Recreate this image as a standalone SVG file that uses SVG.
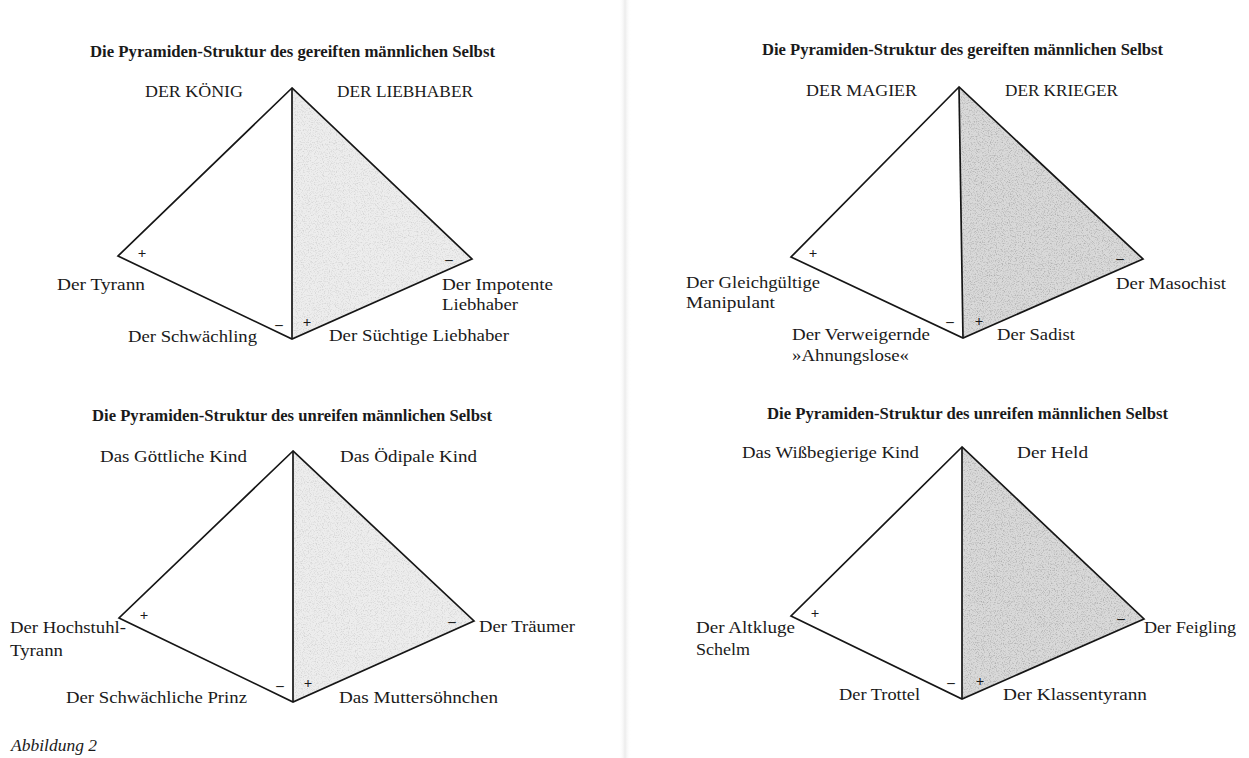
<svg xmlns="http://www.w3.org/2000/svg" width="1249" height="758" viewBox="0 0 1249 758">
<style>
  text { font-family: "Liberation Serif", "Times New Roman", serif; fill: #1a1a1a; }
  .title { font-size: 16px; font-weight: bold; }
  .lbl { font-size: 17px; }
  .sign { font-size: 15px; font-weight: bold; text-anchor: middle; }
  .cap { font-size: 16px; font-style: italic; }
  .edge { fill: none; stroke: #161616; stroke-width: 1.7; stroke-linejoin: miter; }
  .shadeL { fill: #ededed; }
  .shadeR { fill: #d9d9d9; }
  .grain { fill: #000; filter: url(#speck); }
</style>
<defs>
  <filter id="speck" x="0" y="0" width="100%" height="100%" color-interpolation-filters="sRGB">
    <feTurbulence type="fractalNoise" baseFrequency="0.85" numOctaves="2" seed="7" result="n"/>
    <feColorMatrix in="n" type="matrix" values="0 0 0 0 0  0 0 0 0 0  0 0 0 0 0  2.2 0 0 0 -1.05" result="d"/>
    <feComposite in="d" in2="SourceGraphic" operator="in"/>
  </filter>
  <linearGradient id="fold" x1="0" y1="0" x2="1" y2="0">
    <stop offset="0" stop-color="#ffffff" stop-opacity="0"/>
    <stop offset="0.5" stop-color="#ececec" stop-opacity="1"/>
    <stop offset="1" stop-color="#ffffff" stop-opacity="0"/>
  </linearGradient>
</defs>
<rect width="1249" height="758" fill="#ffffff"/>
<rect x="619" y="0" width="12" height="758" fill="url(#fold)"/>

<g id="pyramid-top-left">
  <polygon class="shadeL" points="292,88 292,339 472,259"/>
  <polygon class="grain" opacity="0.14" points="292,88 292,339 472,259"/>
  <polygon class="edge" points="292,88 118,256 292,339 472,259"/>
  <line class="edge" x1="292" y1="88" x2="292" y2="339"/>
  <text class="title" x="90" y="57" textLength="405" lengthAdjust="spacingAndGlyphs">Die Pyramiden-Struktur des gereiften männlichen Selbst</text>
  <text class="lbl" x="145" y="97" textLength="98" lengthAdjust="spacingAndGlyphs">DER KÖNIG</text>
  <text class="lbl" x="337" y="97" textLength="136" lengthAdjust="spacingAndGlyphs">DER LIEBHABER</text>
  <text class="lbl" x="57" y="290" textLength="88" lengthAdjust="spacingAndGlyphs">Der Tyrann</text>
  <text class="lbl" x="128" y="342" textLength="129" lengthAdjust="spacingAndGlyphs">Der Schwächling</text>
  <text class="lbl" x="442" y="290" textLength="111" lengthAdjust="spacingAndGlyphs">Der Impotente</text>
  <text class="lbl" x="442" y="310" textLength="76" lengthAdjust="spacingAndGlyphs">Liebhaber</text>
  <text class="lbl" x="329" y="341" textLength="180" lengthAdjust="spacingAndGlyphs">Der Süchtige Liebhaber</text>
  <text class="sign" x="142" y="258">+</text>
  <text class="sign" x="279" y="329">–</text>
  <text class="sign" x="307" y="327">+</text>
  <text class="sign" x="449" y="264">–</text>
</g>

<g id="pyramid-top-right">
  <polygon class="shadeR" points="959,87 963,338 1143,259"/>
  <polygon class="grain" opacity="0.25" points="959,87 963,338 1143,259"/>
  <polygon class="edge" points="959,87 791,257 963,338 1143,259"/>
  <line class="edge" x1="959" y1="87" x2="963" y2="338"/>
  <text class="title" x="762" y="55" textLength="401" lengthAdjust="spacingAndGlyphs">Die Pyramiden-Struktur des gereiften männlichen Selbst</text>
  <text class="lbl" x="806" y="96" textLength="111" lengthAdjust="spacingAndGlyphs">DER MAGIER</text>
  <text class="lbl" x="1005" y="96" textLength="113" lengthAdjust="spacingAndGlyphs">DER KRIEGER</text>
  <text class="lbl" x="686" y="288" textLength="134" lengthAdjust="spacingAndGlyphs">Der Gleichgültige</text>
  <text class="lbl" x="686" y="308" textLength="89" lengthAdjust="spacingAndGlyphs">Manipulant</text>
  <text class="lbl" x="792" y="340" textLength="138" lengthAdjust="spacingAndGlyphs">Der Verweigernde</text>
  <text class="lbl" x="792" y="361" textLength="117" lengthAdjust="spacingAndGlyphs">»Ahnungslose«</text>
  <text class="lbl" x="997" y="340" textLength="78" lengthAdjust="spacingAndGlyphs">Der Sadist</text>
  <text class="lbl" x="1116" y="289" textLength="110" lengthAdjust="spacingAndGlyphs">Der Masochist</text>
  <text class="sign" x="813" y="258">+</text>
  <text class="sign" x="950" y="326">–</text>
  <text class="sign" x="979" y="326">+</text>
  <text class="sign" x="1120" y="263">–</text>
</g>

<g id="pyramid-bottom-left">
  <polygon class="shadeL" points="293,451 293,702 474,621"/>
  <polygon class="grain" opacity="0.14" points="293,451 293,702 474,621"/>
  <polygon class="edge" points="293,451 119,618 293,702 474,621"/>
  <line class="edge" x1="293" y1="451" x2="293" y2="702"/>
  <text class="title" x="92" y="421" textLength="400" lengthAdjust="spacingAndGlyphs">Die Pyramiden-Struktur des unreifen männlichen Selbst</text>
  <text class="lbl" x="100" y="462" textLength="147" lengthAdjust="spacingAndGlyphs">Das Göttliche Kind</text>
  <text class="lbl" x="340" y="462" textLength="137" lengthAdjust="spacingAndGlyphs">Das Ödipale Kind</text>
  <text class="lbl" x="10" y="633" textLength="116" lengthAdjust="spacingAndGlyphs">Der Hochstuhl-</text>
  <text class="lbl" x="10" y="656" textLength="53" lengthAdjust="spacingAndGlyphs">Tyrann</text>
  <text class="lbl" x="66" y="703" textLength="181" lengthAdjust="spacingAndGlyphs">Der Schwächliche Prinz</text>
  <text class="lbl" x="339" y="703" textLength="159" lengthAdjust="spacingAndGlyphs">Das Muttersöhnchen</text>
  <text class="lbl" x="479" y="632" textLength="96" lengthAdjust="spacingAndGlyphs">Der Träumer</text>
  <text class="sign" x="144" y="620">+</text>
  <text class="sign" x="280" y="690">–</text>
  <text class="sign" x="308" y="688">+</text>
  <text class="sign" x="452" y="626">–</text>
</g>

<g id="pyramid-bottom-right">
  <polygon class="shadeR" points="962,447 962,699 1144,619"/>
  <polygon class="grain" opacity="0.25" points="962,447 962,699 1144,619"/>
  <polygon class="edge" points="962,447 791,616 962,699 1144,619"/>
  <line class="edge" x1="962" y1="447" x2="962" y2="699"/>
  <text class="title" x="767" y="419" textLength="401" lengthAdjust="spacingAndGlyphs">Die Pyramiden-Struktur des unreifen männlichen Selbst</text>
  <text class="lbl" x="742" y="458" textLength="177" lengthAdjust="spacingAndGlyphs">Das Wißbegierige Kind</text>
  <text class="lbl" x="1017" y="458" textLength="71" lengthAdjust="spacingAndGlyphs">Der Held</text>
  <text class="lbl" x="696" y="633" textLength="99" lengthAdjust="spacingAndGlyphs">Der Altkluge</text>
  <text class="lbl" x="696" y="655" textLength="54" lengthAdjust="spacingAndGlyphs">Schelm</text>
  <text class="lbl" x="839" y="700" textLength="81" lengthAdjust="spacingAndGlyphs">Der Trottel</text>
  <text class="lbl" x="1003" y="700" textLength="144" lengthAdjust="spacingAndGlyphs">Der Klassentyrann</text>
  <text class="lbl" x="1144" y="633" textLength="92" lengthAdjust="spacingAndGlyphs">Der Feigling</text>
  <text class="sign" x="815" y="618">+</text>
  <text class="sign" x="951" y="687">–</text>
  <text class="sign" x="980" y="686">+</text>
  <text class="sign" x="1121" y="623">–</text>
</g>

<g id="connectors"></g>

<g id="caption">
  <text class="cap" x="11" y="751" textLength="86" lengthAdjust="spacingAndGlyphs">Abbildung 2</text>
</g>
</svg>
